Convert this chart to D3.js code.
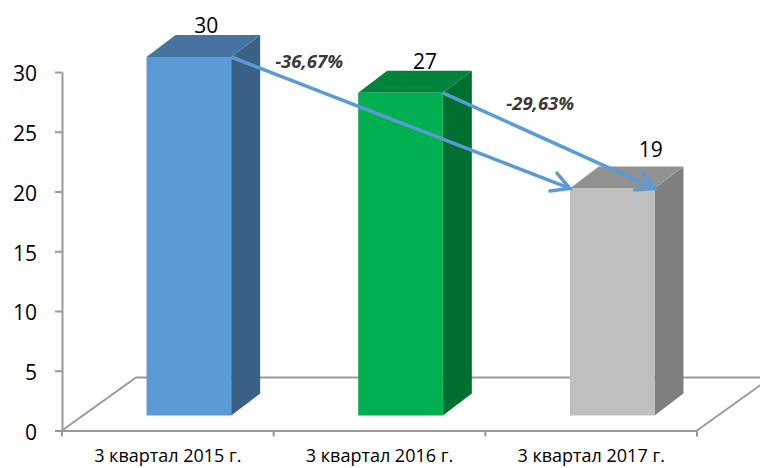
<!DOCTYPE html>
<html>
<head>
<meta charset="utf-8">
<script src="https://cdn.jsdelivr.net/npm/d3@7"></script>
<style>
  html, body { margin: 0; padding: 0; background: #fff; }
  svg { display: block; font-family: "Open Sans", sans-serif; }
</style>
</head>
<body>
<svg id="chart" width="760" height="468"></svg>
<script>
const categories = ["3 квартал 2015 г.", "3 квартал 2016 г.", "3 квартал 2017 г."];
const values = [30, 27, 19];
const yTicks = [0, 5, 10, 15, 20, 25, 30];
// arrows: from bar -> to bar, and which top corner of the target they hit
const arrowFrom = [0, 1];
const arrowTo = [2, 2];
const arrowSide = ["left", "right"];

const colors = [
    { front: "#5b9bd5", top: "#4574a0", side: "#3a6185" },
    { front: "#00b050", top: "#00843c", side: "#006f30" },
    { front: "#bfbfbf", top: "#919191", side: "#7f7f7f" }
];
const labelNudge = [[3, 0], [10, 0], [24, -7]];
const pctLabelPos = [[0.23, -19], [0.46, -27]];

const svg = d3.select("#chart");

const y = d3.scaleLinear().domain([0, 30]).range([430.5, 72]);
const x = d3.scaleBand().domain(categories).range([62, 697]);
const bw = x.bandwidth();
const barW = bw * 0.4;

// 3d offsets
const floorDepth = [74, -53];
const frontOff = [21, -15];
const barDepth = [29, -22];

const gray = "#9a9a9a";

// floor
const y0 = y(0);
svg.append("path")
    .attr("d", `M62,${y0} L${62 + floorDepth[0]},${y0 + floorDepth[1]} L${697 + floorDepth[0]},${y0 + floorDepth[1]} L697,${y0}`)
    .attr("fill", "none")
    .attr("stroke", gray)
    .attr("stroke-width", 2);

// y axis
const yAxis = svg.append("g")
    .attr("transform", "translate(62,0)")
    .call(d3.axisLeft(y).tickValues(yTicks).tickSize(7).tickSizeOuter(0).tickPadding(18));
yAxis.select(".domain").attr("stroke", gray).attr("stroke-width", 2);
yAxis.selectAll(".tick line").attr("stroke", gray).attr("stroke-width", 2);
yAxis.selectAll(".tick text")
    .attr("font-size", 21)
    .attr("font-family", "Open Sans, sans-serif")
    .attr("fill", "#000")
    .attr("dy", "0.42em");

// x axis
const xAxis = svg.append("g")
    .attr("transform", `translate(0,${y0})`)
    .call(d3.axisBottom(x).tickSize(0).tickSizeOuter(0).tickPadding(19));
xAxis.select(".domain").attr("stroke", gray).attr("stroke-width", 2);
xAxis.selectAll(".tick text")
    .attr("font-size", 18)
    .attr("font-family", "Open Sans, sans-serif")
    .attr("fill", "#000");
const boundaries = categories.map(c => x(c)).concat([x(categories[categories.length - 1]) + bw]);
xAxis.selectAll(".sep")
    .data(boundaries)
    .enter()
    .append("line")
    .attr("x1", d => d).attr("x2", d => d)
    .attr("y1", 0).attr("y2", 6)
    .attr("stroke", gray)
    .attr("stroke-width", 2);

// bars
function geom(i) {
    const left = x(categories[i]) + bw / 2 - barW / 2 + frontOff[0];
    const right = left + barW;
    const top = y(values[i]) + frontOff[1];
    const bottom = y(0) + frontOff[1];
    return { left, right, top, bottom };
}

const bars = svg.selectAll(".bar")
    .data(values)
    .enter()
    .append("g")
    .attr("class", "bar");

bars.append("path")
    .attr("d", (d, i) => {
        const g = geom(i);
        return `M${g.right},${g.top} L${g.right + barDepth[0]},${g.top + barDepth[1]} L${g.right + barDepth[0]},${g.bottom + barDepth[1]} L${g.right},${g.bottom} Z`;
    })
    .attr("fill", (d, i) => colors[i].side);

bars.append("path")
    .attr("d", (d, i) => {
        const g = geom(i);
        return `M${g.left},${g.top} L${g.left + barDepth[0]},${g.top + barDepth[1]} L${g.right + barDepth[0]},${g.top + barDepth[1]} L${g.right},${g.top} Z`;
    })
    .attr("fill", (d, i) => colors[i].top);

bars.append("rect")
    .attr("x", (d, i) => geom(i).left)
    .attr("y", (d, i) => geom(i).top)
    .attr("width", barW)
    .attr("height", (d, i) => geom(i).bottom - geom(i).top)
    .attr("fill", (d, i) => colors[i].front);

bars.append("text")
    .attr("x", (d, i) => geom(i).left + barW / 2 + barDepth[0] / 2 + labelNudge[i][0])
    .attr("y", (d, i) => geom(i).top + barDepth[1] - 2 + labelNudge[i][1])
    .attr("text-anchor", "middle")
    .attr("font-size", 21)
    .attr("fill", "#000")
    .text(d => d);

// arrows
const fmt = v => (v * 100).toFixed(2).replace(".", ",") + "%";
const arrowColor = "#5b9bd5";
arrowFrom.forEach((fi, k) => {
    const a = geom(fi);
    const b = geom(arrowTo[k]);
    const x1 = a.right, y1 = a.top;
    const x2 = arrowSide[k] === "left" ? b.left : b.right;
    const y2 = b.top;
    const ang = Math.atan2(y2 - y1, x2 - x1);
    const headLen = 20, spread = 0.5;
    svg.append("line")
        .attr("x1", x1).attr("y1", y1)
        .attr("x2", x2 - 2 * Math.cos(ang)).attr("y2", y2 - 2 * Math.sin(ang))
        .attr("stroke", arrowColor)
        .attr("stroke-width", 3.5);
    svg.append("path")
        .attr("d", `M${x2 - headLen * Math.cos(ang - spread)},${y2 - headLen * Math.sin(ang - spread)} L${x2},${y2} L${x2 - headLen * Math.cos(ang + spread)},${y2 - headLen * Math.sin(ang + spread)}`)
        .attr("fill", "none")
        .attr("stroke", arrowColor)
        .attr("stroke-width", 3.5)
        .attr("stroke-linecap", "round")
        .attr("stroke-linejoin", "miter");
    const t = pctLabelPos[k][0];
    const change = (values[arrowTo[k]] - values[fi]) / values[fi];
    svg.append("text")
        .attr("x", x1 + (x2 - x1) * t)
        .attr("y", y1 + (y2 - y1) * t + pctLabelPos[k][1])
        .attr("text-anchor", "middle")
        .attr("font-size", 18.5)
        .attr("font-weight", "bold")
        .attr("font-style", "italic")
        .attr("fill", "#3a3a3a")
        .text(fmt(change));
});
</script>
</body>
</html>
